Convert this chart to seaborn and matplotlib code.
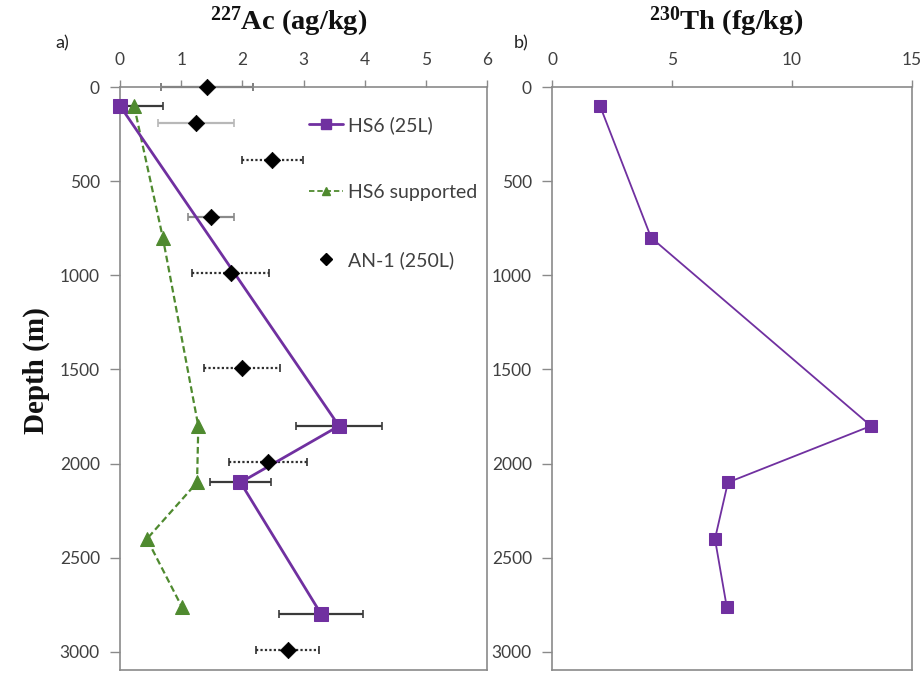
import numpy as np
import pandas as pd
import matplotlib
matplotlib.use("Agg")
import matplotlib.pyplot as plt
from matplotlib.lines import Line2D
import seaborn as sns

# ---------------- data ----------------
hs6_depth = [100, 1800, 2100, 2800]
hs6_ac = [0.0, 3.58, 1.97, 3.29]
hs6_err = [0.7, 0.7, 0.5, 0.69]

sup_depth = [100, 800, 1800, 2100, 2400, 2760]
sup_ac = [0.23, 0.70, 1.28, 1.26, 0.44, 1.01]

an1_depth = [0, 190, 390, 690, 990, 1490, 1990, 2990]
an1_ac = [1.42, 1.24, 2.49, 1.49, 1.81, 1.99, 2.42, 2.74]
an1_err = [0.75, 0.62, 0.5, 0.38, 0.63, 0.62, 0.63, 0.51]
an1_err_style = ["dark", "light", "dotted", "mid", "dotted", "dotted", "dotted", "dotted"]

th_depth = [100, 800, 1800, 2100, 2400, 2760]
th_val = [2.0, 4.13, 13.29, 7.33, 6.79, 7.28]

ac_ticks = [0, 1, 2, 3, 4, 5, 6]
th_ticks = [0, 5, 10, 15]
depth_ticks = [0, 500, 1000, 1500, 2000, 2500, 3000]

# ---------------- style ----------------
sns.set_style("white")
plt.rcParams["font.family"] = ["Lato", "DejaVu Sans"]

PURPLE = "#7030A0"
GREEN = "#4F8A2F"
AXC = "#8a8a8a"
TXT = "#404040"

W, H = 923, 673
fig = plt.figure(figsize=(W / 100, H / 100), dpi=100)

def px_axes(x0, x1, ytop, ybot):
    return fig.add_axes([x0 / W, (H - ybot) / H, (x1 - x0) / W, (ybot - ytop) / H])

axA = px_axes(120, 487, 87, 670)
axB = px_axes(552, 912, 87, 670)

def style_axis(ax, xmax, xticks):
    ax.set_xlim(0, xmax)
    ax.set_ylim(3096, 0)
    ax.set_xticks(xticks)
    ax.set_yticks(depth_ticks)
    ax.xaxis.tick_top()
    ax.tick_params(axis="x", direction="out", length=5, width=1, color=AXC,
                   labelsize=12.5, labelcolor=TXT, pad=9, top=True, bottom=False)
    ax.tick_params(axis="y", direction="out", length=7, width=1, color=AXC,
                   labelsize=12.5, labelcolor=TXT, pad=7.5, left=True)
    for s in ax.spines.values():
        s.set_visible(True)
        s.set_color(AXC)
        s.set_linewidth(1.2)
    ax.grid(False)
    ax.set_xlabel("")
    ax.set_ylabel("")

# ---------------- panel a ----------------
# AN-1 error bars
for x, y, e, st in zip(an1_ac, an1_depth, an1_err, an1_err_style):
    if st == "dark":
        col, ls, capc = "#6a6a6a", "-", "#6a6a6a"
    elif st == "light":
        col, ls, capc = "#b8b8b8", "-", "#9a9a9a"
    elif st == "mid":
        col, ls, capc = "#8a8a8a", "-", "#6a6a6a"
    else:
        col, ls, capc = "#303030", (0, (1, 1)), "#a0a0a0"
    eb = axA.errorbar([x], [y], xerr=[e], fmt="none", ecolor=col, elinewidth=1.6,
                      capsize=3, capthick=1.2, zorder=2)
    eb[2][0].set_linestyle(ls)
    eb[2][0].set_clip_on(False)
    for c in eb[1]:
        c.set_color(capc)
        c.set_clip_on(False)

# HS6 error bars (clipped at the axis)
axA.errorbar(hs6_ac, hs6_depth, xerr=hs6_err, fmt="none", ecolor="#3a3a3a",
             elinewidth=1.6, capsize=3, capthick=1.2, zorder=2)

n_before = len(axA.lines)

df_sup = pd.DataFrame({"ac": sup_ac, "depth": sup_depth})
sns.lineplot(data=df_sup, x="ac", y="depth", sort=False, estimator=None, ax=axA,
             color=GREEN, lw=1.6, linestyle=(0, (3, 1.6)), marker="^", markersize=10,
             markeredgecolor=GREEN, markerfacecolor=GREEN, legend=False, zorder=3)

df_hs6 = pd.DataFrame({"ac": hs6_ac, "depth": hs6_depth})
sns.lineplot(data=df_hs6, x="ac", y="depth", sort=False, estimator=None, ax=axA,
             color=PURPLE, lw=2.0, marker="s", markersize=10,
             markeredgecolor=PURPLE, markerfacecolor=PURPLE, legend=False, zorder=4)

for ln in axA.lines[n_before:]:
    ln.set_clip_on(False)

df_an1 = pd.DataFrame({"ac": an1_ac, "depth": an1_depth})
sns.scatterplot(data=df_an1, x="ac", y="depth", ax=axA, marker="D", s=70,
                color="black", edgecolor="black", linewidth=0.5, legend=False, zorder=5)
axA.collections[-1].set_clip_on(False)

style_axis(axA, 6, ac_ticks)

handles = [
    Line2D([], [], color=PURPLE, lw=2.0, marker="s", markersize=7),
    Line2D([], [], color=GREEN, lw=1.3, linestyle=(0, (3, 1.6)), marker="^", markersize=6),
    Line2D([], [], color="black", lw=0, marker="D", markersize=6),
]
labels = ["HS6 (25L)", "HS6 supported", "AN-1 (250L)"]
leg = axA.legend(handles, labels, loc="upper left", bbox_to_anchor=(0.515, 0.950),
                 frameon=False, fontsize=14, handlelength=1.75, handletextpad=0.28,
                 labelspacing=2.58, borderpad=0, borderaxespad=0)
for t in leg.get_texts():
    t.set_color(TXT)

# ---------------- panel b ----------------
df_th = pd.DataFrame({"th": th_val, "depth": th_depth})
sns.lineplot(data=df_th, x="th", y="depth", sort=False, estimator=None, ax=axB,
             color=PURPLE, lw=1.3, marker="s", markersize=9,
             markeredgecolor=PURPLE, markerfacecolor=PURPLE, legend=False, zorder=4)
style_axis(axB, 15, th_ticks)

# ---------------- titles and labels ----------------
serif = ["Liberation Serif", "DejaVu Serif"]
fig.text(289 / W, 1 - 22 / H, r"$\mathregular{^{227}}$Ac (ag/kg)", ha="center", va="center",
         fontsize=20.5, fontweight="bold", family=serif, color="#111111")
fig.text(726 / W, 1 - 22 / H, r"$\mathregular{^{230}}$Th (fg/kg)", ha="center", va="center",
         fontsize=20.5, fontweight="bold", family=serif, color="#111111")
fig.text(36 / W, 1 - 371 / H, "Depth (m)", ha="center", va="center", rotation=90,
         fontsize=21, fontweight="bold", family=serif, color="#111111")
fig.text(62 / W, 1 - 43 / H, "a)", ha="center", va="center", fontsize=13, color="#222222")
fig.text(521 / W, 1 - 43 / H, "b)", ha="center", va="center", fontsize=13, color="#222222")

fig.savefig("out.png", dpi=100)
